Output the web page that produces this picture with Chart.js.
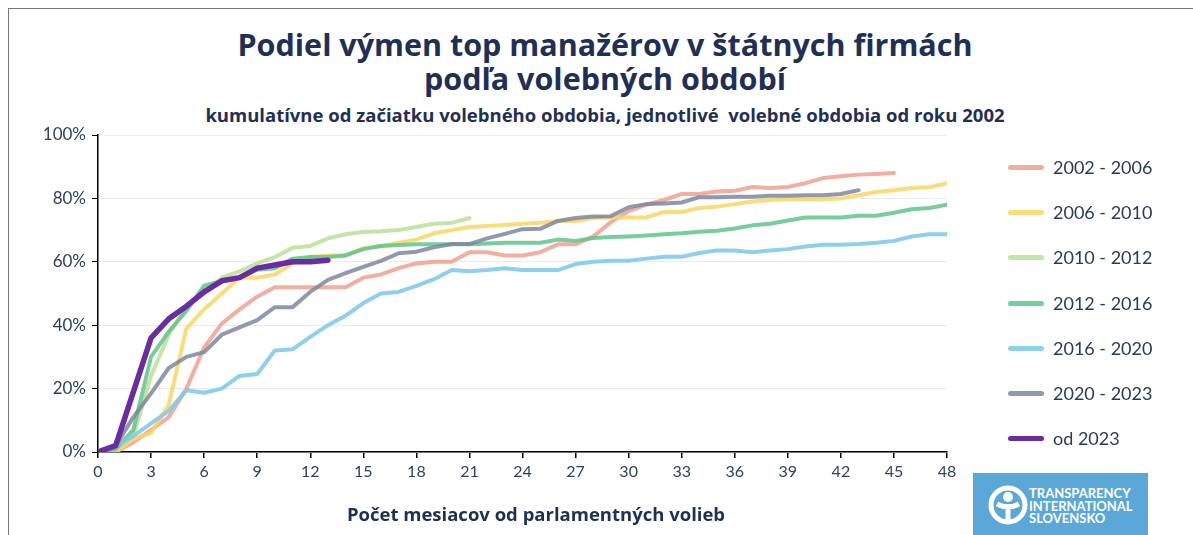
<!DOCTYPE html>
<html>
<head>
<meta charset="utf-8">
<script src="https://cdn.jsdelivr.net/npm/chart.js@4"></script>
<style>
  body { margin: 0; background: #fff; font-family: Lato, "Open Sans", sans-serif; }
  #wrap { position: relative; width: 1193px; height: 535px; overflow: hidden; }
  #frame { position: absolute; left: 8px; top: 8px; width: 1200px; height: 540px;
           border-left: 1px solid #777; border-top: 1px solid #777; }
  #title { position: absolute; left: 0; width: 1210px; top: 27px; text-align: center;
           color: #1f2f55; font-family: "Open Sans", sans-serif; font-weight: bold; font-size: 30.5px;
           line-height: 34px; }
  #sub { position: absolute; left: 0; width: 1210px; top: 102px; text-align: center;
         color: #1f2f55; font-family: "Open Sans", sans-serif; font-weight: bold; font-size: 18.5px; }
  #xtitle { position: absolute; left: 0; width: 1072px; top: 501px; text-align: center;
            color: #1f2f55; font-family: "Open Sans", sans-serif; font-weight: bold; font-size: 18.5px; }
  #chart { position: absolute; left: 0; top: 0; }
  #legend { position: absolute; left: 1008px; top: 155px; }
  .item { height: 45.2px; display: flex; align-items: flex-start; }
  .swatch { width: 36px; height: 5px; border-radius: 3px; margin-top: 10px; margin-right: 9px; }
  .item span { font-size: 18px; color: #2e3a55; line-height: 24px; }
  #logo { position: absolute; left: 973px; top: 473px; width: 175px; height: 62px; background: #5aa7d8;
          color: #fff; }
  #logo .txt { position: absolute; left: 56px; top: 14px; font-weight: bold; font-size: 13px; line-height: 12.5px; }
</style>
</head>
<body>
<div id="wrap">
  <div id="frame"></div>
  <div id="title">Podiel výmen top manažérov v štátnych firmách<br>podľa volebných období</div>
  <div id="sub">kumulatívne od začiatku volebného obdobia, jednotlivé&nbsp; volebné obdobia od roku 2002</div>
  <canvas id="chart" width="1193" height="535"></canvas>
  <div id="xtitle">Počet mesiacov od parlamentných volieb</div>
  <div id="legend"></div>
  <div id="logo">
    <svg width="50" height="50" style="position:absolute;left:10px;top:7px" viewBox="0 0 50 50">
      <circle cx="25" cy="25" r="17" fill="none" stroke="#fff" stroke-width="5"/>
      <circle cx="25" cy="17" r="5" fill="#fff"/>
      <path d="M14 24 Q25 30 36 24 M25 24 L25 40" stroke="#fff" stroke-width="5" fill="none"/>
    </svg>
    <div class="txt">TRANSPARENCY<br>INTERNATIONAL<br>SLOVENSKO</div>
  </div>
</div>
<script>
// months since elections (x axis)
var months = [0, 1, 2, 3, 4, 5, 6, 7, 8, 9, 10, 11, 12, 13, 14, 15, 16, 17, 18, 19, 20, 21, 22, 23, 24,
  25, 26, 27, 28, 29, 30, 31, 32, 33, 34, 35, 36, 37, 38, 39, 40, 41, 42, 43, 44, 45, 46, 47, 48];
var xTicks = [0, 3, 6, 9, 12, 15, 18, 21, 24, 27, 30, 33, 36, 39, 42, 45, 48];
var yTicks = [0, 20, 40, 60, 80, 100];

var periods = ["2002 - 2006", "2006 - 2010", "2010 - 2012", "2012 - 2016", "2016 - 2020", "2020 - 2023", "od 2023"];

// cumulative share (%) per month
var s2002 = [0, 0, 3, 7, 11, 20, 33, 40.5, 45, 49, 52, 52, 52, 52, 52, 55, 56, 58, 59.5, 60, 60, 63, 63, 62, 62,
  63, 65.5, 65.5, 68, 72.5, 76, 78, 79.5, 81.4, 81.4, 82.2, 82.4, 83.6, 83.3, 83.6, 84.8, 86.4, 87, 87.5, 87.7, 88];
var s2006 = [0, 0, 4, 6, 15, 39, 45, 50, 55, 55, 56, 59.5, 61.5, 62, 62, 64.3, 65, 66, 67, 69, 70, 71, 71.3, 71.6, 72,
  72.3, 72.9, 72.9, 73.8, 74, 74, 74, 75.7, 75.7, 77, 77.4, 78.2, 79, 79.5, 79.7, 79.7, 79.7, 80, 81, 82, 82.6, 83.3, 83.5, 84.8];
var s2010 = [0, 1, 5, 24, 37, 46, 50, 55, 57, 59.5, 61.5, 64.4, 65, 67.4, 68.7, 69.4, 69.6, 70, 71, 72, 72.3, 73.8];
var s2012 = [0, 1, 7, 30, 38, 44.5, 52.5, 54, 55, 57.5, 58, 61, 61.5, 61.5, 62, 64, 65, 65.3, 65.5, 65.5, 65.5, 65.5,
  65.8, 66, 66, 66, 67, 66.6, 67.5, 67.8, 68, 68.3, 68.7, 69, 69.5, 69.8, 70.5, 71.5, 72, 73, 74, 74, 74, 74.5, 74.5,
  75.5, 76.6, 77, 78];
var s2016 = [0, 2, 5, 9, 13, 19.5, 18.7, 20, 24, 24.6, 32, 32.4, 36.3, 40, 43, 47, 50, 50.5, 52.4, 54.5, 57.4, 57,
  57.4, 58, 57.4, 57.4, 57.4, 59.3, 60, 60.3, 60.3, 61, 61.6, 61.6, 62.8, 63.6, 63.6, 63, 63.6, 64, 64.8, 65.4, 65.4,
  65.6, 66, 66.6, 68, 68.7, 68.7];
var s2020 = [0, 2, 11, 18.5, 26.5, 30, 31.5, 37, 39.3, 41.6, 45.7, 45.7, 50.5, 54.3, 56.4, 58.4, 60.3, 62.7, 63.2,
  64.6, 65.6, 65.6, 67.4, 68.8, 70.3, 70.4, 72.9, 73.8, 74.3, 74.4, 77.2, 78.2, 78.4, 78.7, 80.4, 80.4, 80.5, 80.5,
  80.8, 80.8, 81, 81, 81.4, 82.6];
var s2023 = [0, 2, 19, 36, 42, 46, 50.5, 54, 55, 58, 59, 60, 60, 60.5];

var series = [s2002, s2006, s2010, s2012, s2016, s2020, s2023];
var colors = ["rgba(240,160,145,0.85)", "rgba(250,214,100,0.85)", "rgba(185,224,150,0.85)", "rgba(95,196,140,0.85)",
  "rgba(130,202,235,0.9)", "rgba(125,135,160,0.85)", "#6a2ca0"];
var widths = [4, 4, 4, 4, 4, 4, 5.5];

var ink = "#33405e";
var font = "Lato, 'Open Sans', sans-serif";

var datasets = series.map(function (vals, i) {
  return {
    label: periods[i],
    data: vals.map(function (v, j) { return { x: months[j], y: v }; }),
    borderColor: colors[i],
    borderWidth: widths[i],
    pointRadius: 0,
    tension: 0,
    borderJoinStyle: "round",
    borderCapStyle: "round"
  };
});
// od 2023 on top
datasets.reverse();

var legend = document.getElementById("legend");
periods.forEach(function (p, i) {
  var d = document.createElement("div");
  d.className = "item";
  d.innerHTML = '<div class="swatch" style="background:' + colors[i] + '"></div><span>' + p + "</span>";
  legend.appendChild(d);
});

new Chart(document.getElementById("chart"), {
  type: "line",
  data: { datasets: datasets },
  options: {
    responsive: false,
    animation: false,
    layout: { padding: { left: 0, right: 246, top: 135, bottom: 0 } },
    plugins: { legend: { display: false }, tooltip: { enabled: false } },
    scales: {
      x: {
        type: "linear",
        min: 0, max: 48,
        afterBuildTicks: function (s) { s.ticks = xTicks.map(function (v) { return { value: v }; }); },
        afterFit: function (s) { s.height = 83; },
        ticks: { color: ink, font: { family: font, size: 16 }, padding: 4, maxRotation: 0 },
        grid: { drawOnChartArea: false, tickColor: "#000", tickLength: 6, lineWidth: 1.5 },
        border: { color: "#000", width: 1.5 }
      },
      y: {
        min: 0, max: 100,
        afterBuildTicks: function (s) { s.ticks = yTicks.map(function (v) { return { value: v }; }); },
        afterFit: function (s) { s.width = 98; },
        ticks: { color: ink, font: { family: font, size: 17 }, padding: 6,
          callback: function (v) { return v + "%"; } },
        grid: { color: "#ececec", tickColor: "#000", tickLength: 6, lineWidth: 1 },
        border: { color: "#000", width: 1.5 }
      }
    }
  }
});
</script>
</body>
</html>
